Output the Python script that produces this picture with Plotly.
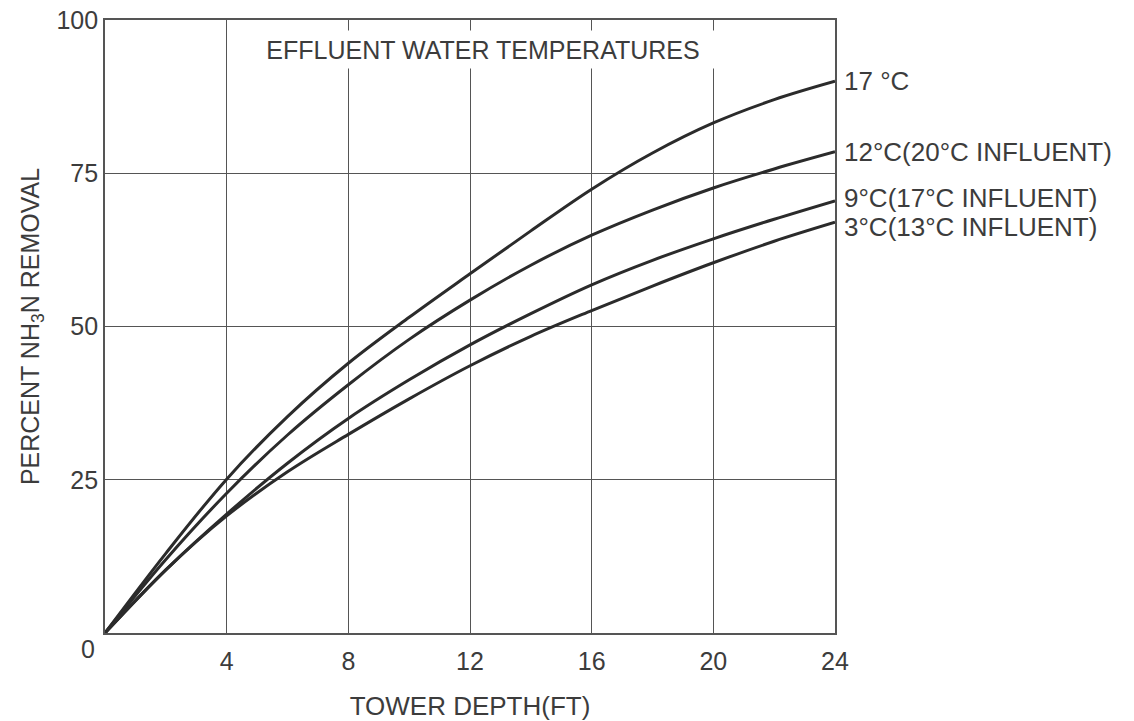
import plotly.graph_objects as go

depth_ft = [0, 2, 4, 6, 8, 10, 12, 14, 16, 18, 20, 22, 24]
removal_17c = [0, 13.0, 25.1, 35.3, 44.0, 51.5, 58.6, 65.6, 72.4, 78.3, 83.2, 87.0, 90.0]
removal_12c = [0, 12.0, 22.8, 32.3, 40.5, 47.9, 54.3, 60.0, 64.9, 69.0, 72.6, 75.7, 78.5]
removal_9c = [0, 10.3, 19.4, 27.7, 35.0, 41.3, 47.0, 52.1, 56.8, 60.8, 64.3, 67.5, 70.5]
removal_3c = [0, 10.3, 19.1, 26.3, 32.4, 38.2, 43.6, 48.4, 52.6, 56.6, 60.4, 63.9, 67.0]

series_labels = ["17 °C", "12°C(20°C INFLUENT)", "9°C(17°C INFLUENT)", "3°C(13°C INFLUENT)"]
label_yshift = [0, 0, 3, -5]

x_ticks = [4, 8, 12, 16, 20, 24]
y_ticks = [25, 50, 75, 100]

title_text = "EFFLUENT WATER TEMPERATURES"
x_title = "TOWER DEPTH(FT)"
y_title = "PERCENT NH<sub>3</sub>N REMOVAL"

FONT = "Liberation Sans, Arial, sans-serif"
INK = "#3c3c3c"
LINE = "#2b2b2b"
GRID = "#555555"

fig = go.Figure()
all_series = [removal_17c, removal_12c, removal_9c, removal_3c]
for vals, name in zip(all_series, series_labels):
    fig.add_trace(go.Scatter(
        x=depth_ft, y=vals, mode="lines", name=name,
        line=dict(color=LINE, width=3, shape="spline", smoothing=1.0),
        showlegend=False, hoverinfo="skip",
    ))

for vals, name, ys in zip(all_series, series_labels, label_yshift):
    fig.add_annotation(
        x=depth_ft[-1], y=vals[-1], xref="x", yref="y",
        text=name, showarrow=False, xanchor="left", yanchor="middle",
        xshift=7, yshift=ys,
        font=dict(family=FONT, size=26, color=INK),
    )

# corner zero label
fig.add_annotation(
    x=0, y=0, xref="x", yref="y", text="0", showarrow=False,
    xanchor="right", yanchor="top", xshift=-8, yshift=0,
    font=dict(family=FONT, size=25, color=INK),
)

# title inside the plot with white box
fig.add_annotation(
    x=12, y=100, xref="x", yref="y", text=title_text, showarrow=False,
    xanchor="center", yanchor="top", yshift=-10, xshift=13,
    width=472, height=37, bgcolor="white", borderpad=0,
    font=dict(family=FONT, size=25, color=INK),
)

fig.update_layout(
    width=1134, height=721,
    margin=dict(l=105, r=299, t=20, b=88),
    paper_bgcolor="white", plot_bgcolor="white",
    font=dict(family=FONT, color=INK),
)

fig.update_xaxes(
    range=[0, 24], tickvals=x_ticks, ticktext=[str(v) for v in x_ticks],
    showgrid=True, gridcolor=GRID, gridwidth=1.3,
    showline=True, linecolor=GRID, linewidth=1.8, mirror=True,
    zeroline=False, ticks="", ticklabelstandoff=5, automargin=False,
    tickfont=dict(family=FONT, size=25, color=INK),
    title=dict(text=x_title, font=dict(family=FONT, size=26, color=INK), standoff=24),
)
fig.update_yaxes(
    range=[0, 100], tickvals=y_ticks, ticktext=[str(v) for v in y_ticks],
    showgrid=True, gridcolor=GRID, gridwidth=1.3,
    showline=True, linecolor=GRID, linewidth=1.8, mirror=True,
    zeroline=False, ticks="", ticklabelstandoff=0, automargin=False,
    tickfont=dict(family=FONT, size=25, color=INK),
    title=dict(text=y_title, font=dict(family=FONT, size=25, color=INK), standoff=10),
)

fig.write_html("out.html")
